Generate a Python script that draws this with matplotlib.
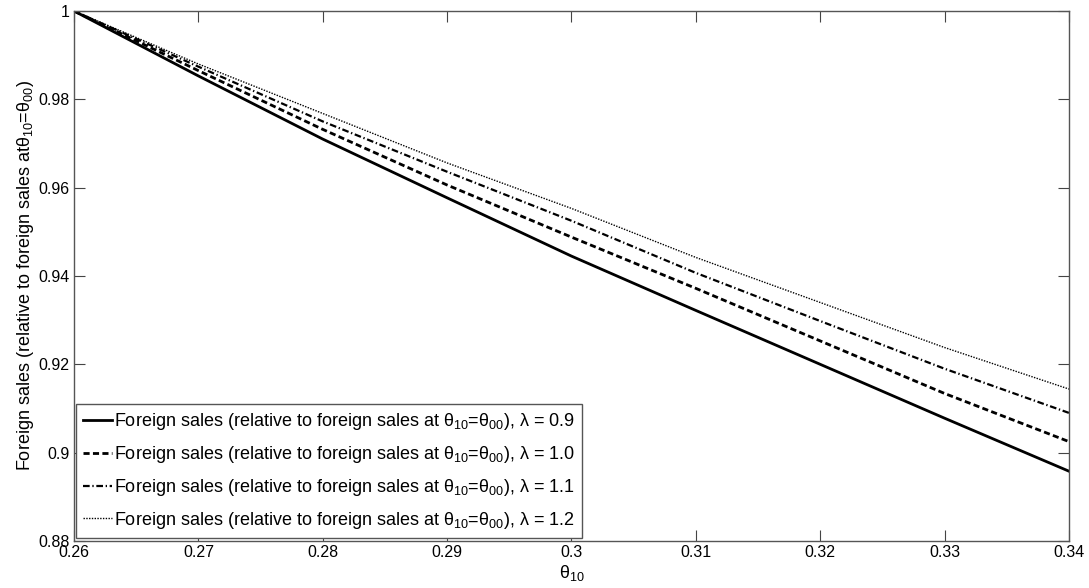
import matplotlib
matplotlib.use("Agg")
import matplotlib.pyplot as plt

plt.rcParams['font.family'] = ['Liberation Sans', 'DejaVu Sans']
plt.rcParams['mathtext.fontset'] = 'custom'
plt.rcParams['mathtext.rm'] = 'Liberation Sans'
plt.rcParams['mathtext.it'] = 'Liberation Sans'
plt.rcParams['mathtext.default'] = 'regular'

theta10 = [0.26, 0.27, 0.28, 0.29, 0.30, 0.31, 0.32, 0.33, 0.34]
sales_l09 = [1.0, 0.9853, 0.9710, 0.9577, 0.9445, 0.9322, 0.9200, 0.9078, 0.8958]
sales_l10 = [1.0, 0.9865, 0.9732, 0.9606, 0.9488, 0.9372, 0.9253, 0.9134, 0.9025]
sales_l11 = [1.0, 0.9874, 0.9750, 0.9636, 0.9525, 0.9407, 0.9298, 0.9190, 0.9090]
sales_l12 = [1.0, 0.9880, 0.9768, 0.9656, 0.9553, 0.9442, 0.9340, 0.9238, 0.9144]
lambdas = ['0.9', '1.0', '1.1', '1.2']

xticks = [0.26, 0.27, 0.28, 0.29, 0.30, 0.31, 0.32, 0.33, 0.34]
xticklabels = ['0.26', '0.27', '0.28', '0.29', '0.3', '0.31', '0.32', '0.33', '0.34']
yticks = [0.88, 0.90, 0.92, 0.94, 0.96, 0.98, 1.0]
yticklabels = ['0.88', '0.9', '0.92', '0.94', '0.96', '0.98', '1']

fig = plt.figure(figsize=(10.89, 5.88), dpi=100)
ax = fig.add_axes([74/1089, 1-541/588, 995/1089, 530/588])

label_base = r'Foreign sales (relative to foreign sales at $\theta_{10}$=$\theta_{00}$), $\lambda$ = '
series = [sales_l09, sales_l10, sales_l11, sales_l12]
styles = [dict(lw=2.0, ls='-'),
          dict(lw=2.0, ls=(0, (2.2, 1.2))),
          dict(lw=1.6, ls=(0, (3.0, 1.2, 0.6, 1.2))),
          dict(lw=1.0, ls=(0, (1.0, 1.0)))]
for s, st, lam in zip(series, styles, lambdas):
    ax.plot(theta10, s, color='black', label=label_base + lam, **st)

ax.set_xlim(0.26, 0.34)
ax.set_ylim(0.88, 1.0)
ax.set_xticks(xticks)
ax.set_xticklabels(xticklabels)
ax.set_yticks(yticks)
ax.set_yticklabels(yticklabels)
ax.tick_params(direction='in', length=8, width=0.8, color='#444444',
               top=True, right=True, labelsize=11.5, pad=3)
for sp in ax.spines.values():
    sp.set_color('#555555')
    sp.set_linewidth(1.0)

ax.set_xlabel(r'$\theta_{10}$', fontsize=13, labelpad=2)
ax.set_ylabel(r'Foreign sales (relative to foreign sales at$\theta_{10}$=$\theta_{00}$)', fontsize=13, labelpad=2)

leg = ax.legend(loc='lower left', bbox_to_anchor=(0.002, 0.006), fontsize=13,
                handlelength=1.6, handletextpad=0.1, labelspacing=0.65,
                borderpad=0.4, borderaxespad=0.0, fancybox=False, framealpha=1.0)
leg.get_frame().set_edgecolor('#555555')
leg.get_frame().set_linewidth(1.0)

fig.savefig('out.png', dpi=100)
